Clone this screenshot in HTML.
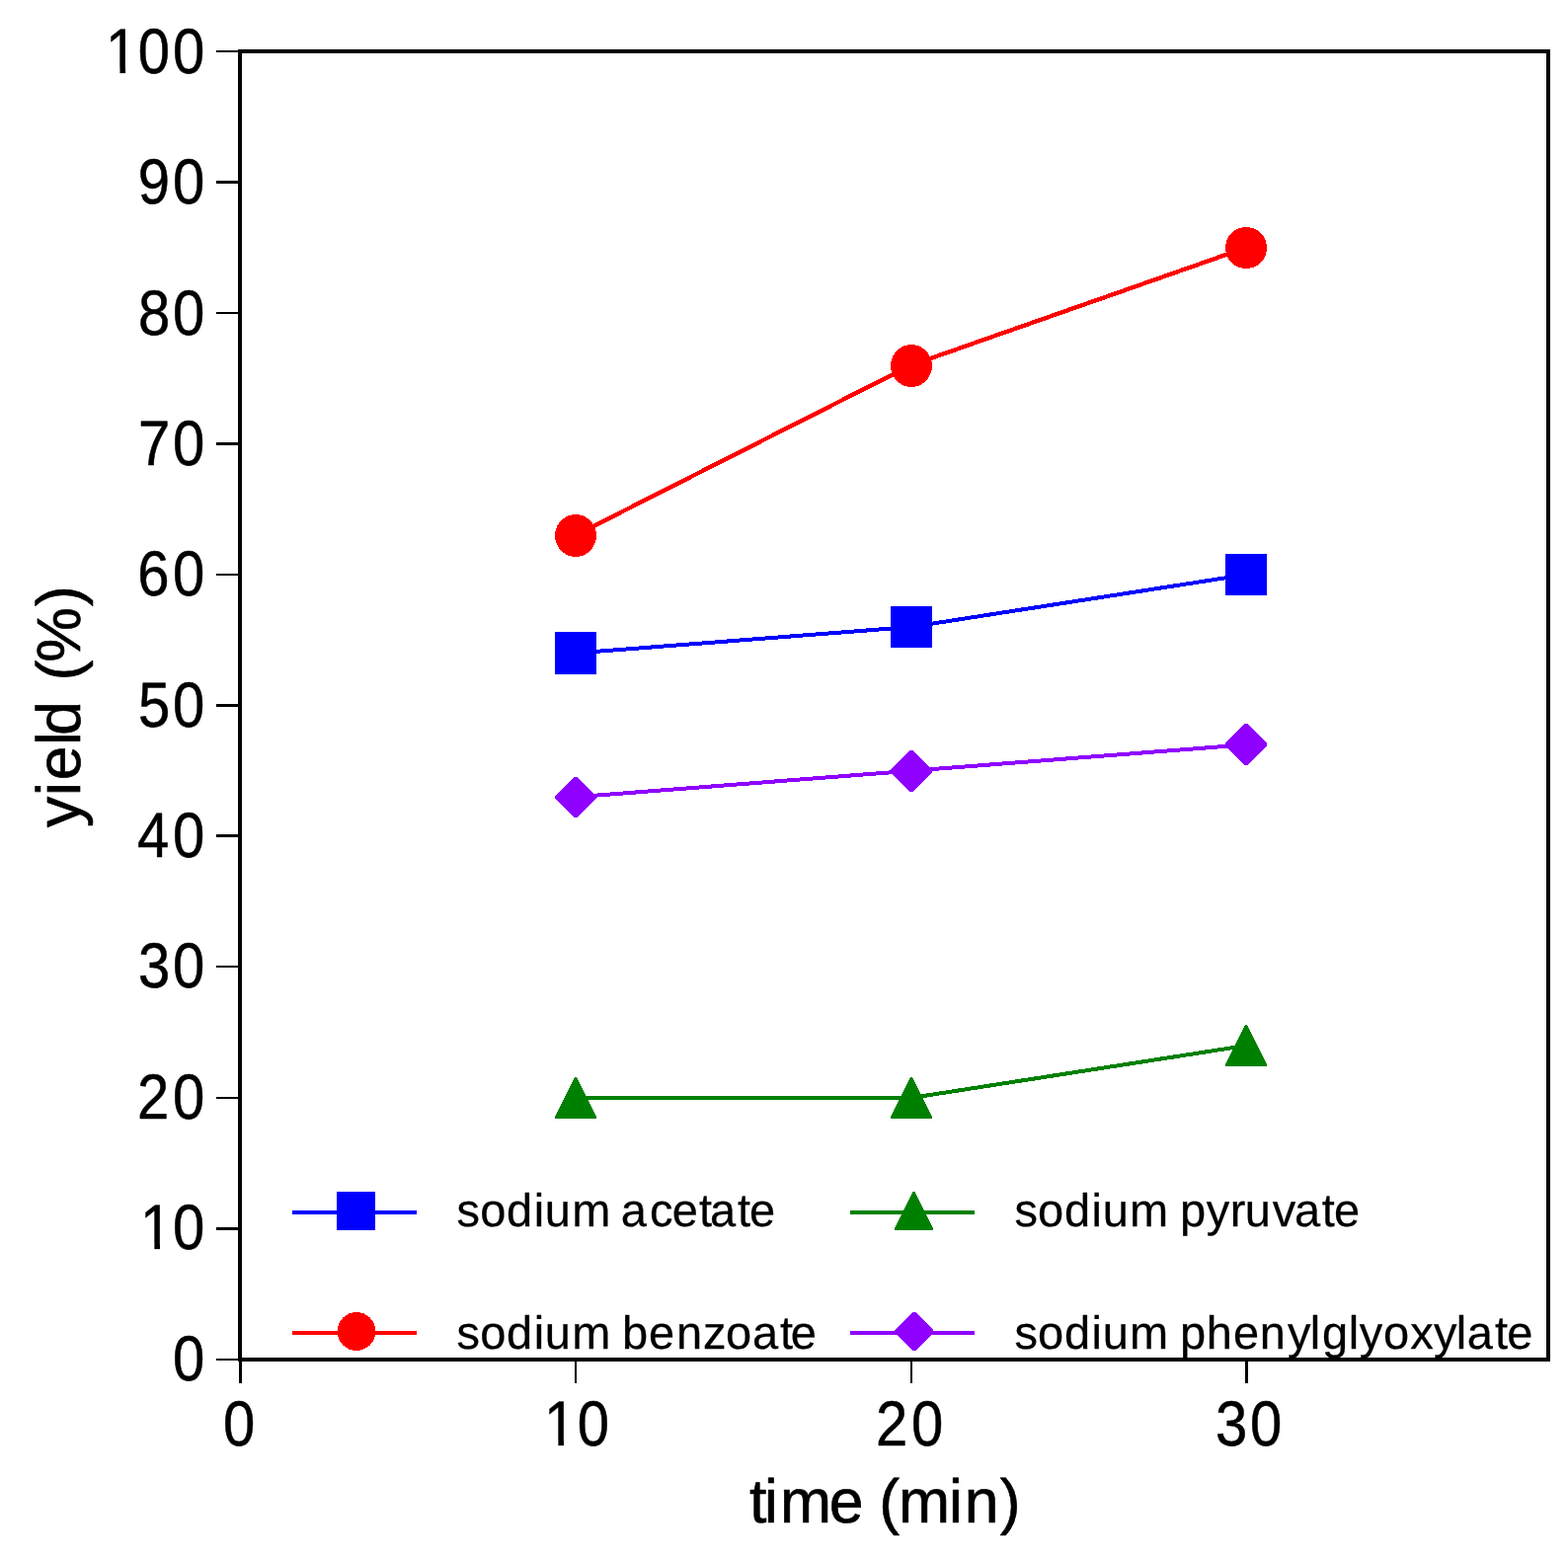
<!DOCTYPE html>
<html lang="en">
<head>
<meta charset="utf-8">
<title>yield vs time</title>
<style>
html,body{margin:0;padding:0;background:#fff;}
body{width:1588px;height:1578px;overflow:hidden;}
svg{display:block;}
text{font-family:"Liberation Sans",sans-serif;fill:#000;stroke-linejoin:round;text-rendering:geometricPrecision;}
</style>
</head>
<body>
<svg width="1588" height="1578" viewBox="0 0 1588 1578">
<defs>
<clipPath id="nofoot" clipPathUnits="userSpaceOnUse">
<path d="M-30,-90H260V-5.81H-30Z M15.58,-6.81H21.67V0.1H15.58Z M33.39,-90H260V30H33.39Z"/>
</clipPath>
</defs>
<rect x="0" y="0" width="1588" height="1578" fill="#fff"/>

<g id="ticks" shape-rendering="crispEdges" fill="#000">
<rect x="219" y="1376" width="23" height="2"/>
<rect x="219" y="1243" width="23" height="3"/>
<rect x="219" y="1111" width="23" height="2"/>
<rect x="219" y="978" width="23" height="2"/>
<rect x="219" y="845" width="23" height="3"/>
<rect x="219" y="713" width="23" height="3"/>
<rect x="219" y="581" width="23" height="2"/>
<rect x="219" y="448" width="23" height="3"/>
<rect x="219" y="316" width="23" height="2"/>
<rect x="219" y="183" width="23" height="3"/>
<rect x="219" y="51" width="23" height="2"/>
<rect x="242" y="1378" width="3" height="23"/>
<rect x="582" y="1378" width="2" height="23"/>
<rect x="922" y="1378" width="2" height="23"/>
<rect x="1261" y="1378" width="3" height="23"/>
</g>
<g id="series" shape-rendering="crispEdges">
<polyline points="582.74,1112 922.49,1112 1262.23,1059" fill="none" stroke="#008000" stroke-width="4"/>
<polyline points="582.74,807.25 922.49,780.75 1262.23,754.25" fill="none" stroke="#8F00FF" stroke-width="4"/>
<polyline points="582.74,661.5 922.49,635 1262.23,582" fill="none" stroke="#0000FF" stroke-width="4"/>
<polyline points="582.74,542.25 922.49,370 1262.23,250.75" fill="none" stroke="#FF0000" stroke-width="4.4"/>
<polygon points="562,1133 604,1133 604,1131 584,1091 582,1091 562,1131" fill="#008000"/>
<polygon points="902,1133 944,1133 944,1131 924,1091 922,1091 902,1131" fill="#008000"/>
<polygon points="1241,1080 1283,1080 1283,1078 1263,1038 1261,1038 1241,1078" fill="#008000"/>
<polygon points="562,806 581.5,787 584.5,787 604,806 604,809 584.5,828 581.5,828 562,809" fill="#8F00FF"/>
<polygon points="902,779.5 921.5,760 924.5,760 944,779.5 944,782.5 924.5,802 921.5,802 902,782.5" fill="#8F00FF"/>
<polygon points="1241,752.5 1260.5,733 1263.5,733 1283,752.5 1283,755.5 1263.5,775 1260.5,775 1241,755.5" fill="#8F00FF"/>
<rect x="562" y="640" width="42" height="43" fill="#0000FF"/>
<rect x="902" y="614" width="42" height="42" fill="#0000FF"/>
<rect x="1241" y="561" width="42" height="42" fill="#0000FF"/>
<ellipse cx="583" cy="542.5" rx="21" ry="21.5" fill="#FF0000"/>
<ellipse cx="923" cy="370.5" rx="21" ry="21.5" fill="#FF0000"/>
<ellipse cx="1262" cy="251" rx="21" ry="21" fill="#FF0000"/>
</g>
<g id="legend-keys" shape-rendering="crispEdges">
<rect x="296" y="1226" width="126" height="4" fill="#0000FF"/>
<rect x="341" y="1207" width="39" height="39" fill="#0000FF"/>
<rect x="296" y="1348" width="126" height="4" fill="#FF0000"/>
<ellipse cx="361" cy="1348.5" rx="19.5" ry="19.5" fill="#FF0000"/>
<rect x="861" y="1226" width="126" height="4" fill="#008000"/>
<polygon points="906,1246 945,1246 945,1244 926.5,1207 924.5,1207 906,1244" fill="#008000"/>
<rect x="861" y="1348" width="126" height="4" fill="#8F00FF"/>
<polygon points="906,1347 924,1329 927,1329 945,1347 945,1350 927,1368 924,1368 906,1350" fill="#8F00FF"/>
</g>
<rect id="frame" x="243" y="52" width="1325" height="1325" fill="none" stroke="#000" stroke-width="4" shape-rendering="crispEdges"/>
<g id="ytick-labels">
<g transform="translate(174.98,1398.38) scale(0.9213,1.0222)"><text x="0" y="0" font-size="63" stroke="#000" stroke-width="0.5">0</text></g>
<g transform="translate(142.04,1265.38) scale(0.9213,1.0222)" clip-path="url(#nofoot)"><text x="0 35.76" y="0" font-size="63" stroke="#000" stroke-width="0.5">10</text></g>
<g transform="translate(138.88,1133.38) scale(0.9213,1.0222)"><text x="0 39.18" y="0" font-size="63" stroke="#000" stroke-width="0.5">20</text></g>
<g transform="translate(140.04,1000.38) scale(0.9213,1.0222)"><text x="0 37.92" y="0" font-size="63" stroke="#000" stroke-width="0.5">30</text></g>
<g transform="translate(139.04,868.38) scale(0.9213,1.0222)"><text x="0 39" y="0" font-size="63" stroke="#000" stroke-width="0.5">40</text></g>
<g transform="translate(139.93,736.38) scale(0.9213,1.0222)"><text x="0 38.04" y="0" font-size="63" stroke="#000" stroke-width="0.5">50</text></g>
<g transform="translate(139.2,603.38) scale(0.9213,1.0222)"><text x="0 38.84" y="0" font-size="63" stroke="#000" stroke-width="0.5">60</text></g>
<g transform="translate(139.93,471.38) scale(0.9213,1.0222)"><text x="0 38.04" y="0" font-size="63" stroke="#000" stroke-width="0.5">70</text></g>
<g transform="translate(139.93,339.38) scale(0.9213,1.0222)"><text x="0 38.04" y="0" font-size="63" stroke="#000" stroke-width="0.5">80</text></g>
<g transform="translate(139.83,206.38) scale(0.9213,1.0222)"><text x="0 38.15" y="0" font-size="63" stroke="#000" stroke-width="0.5">90</text></g>
<g transform="translate(107.1,74.38) scale(0.9213,1.0222)" clip-path="url(#nofoot)"><text x="0 35.55 73.68" y="0" font-size="63" stroke="#000" stroke-width="0.5">100</text></g>
</g>
<g id="xtick-labels">
<g transform="translate(225.93,1464.38) scale(0.9213,1.0222)"><text x="0" y="0" font-size="63" stroke="#000" stroke-width="0.5">0</text></g>
<g transform="translate(551.04,1464.38) scale(0.9213,1.0222)" clip-path="url(#nofoot)"><text x="0 36.65" y="0" font-size="63" stroke="#000" stroke-width="0.5">10</text></g>
<g transform="translate(886.88,1464.38) scale(0.9213,1.0222)"><text x="0 39.1" y="0" font-size="63" stroke="#000" stroke-width="0.5">20</text></g>
<g transform="translate(1230.89,1464.38) scale(0.9213,1.0222)"><text x="0 38.03" y="0" font-size="63" stroke="#000" stroke-width="0.5">30</text></g>
</g>
<g id="axis-labels">
<text x="759.08 774.06 789.97 839.86 865.1 890.34 909.9 961.1 976.66 1012.86" y="1542" font-size="62.5" stroke="#000" stroke-width="0.65">time (min)</text>
<text transform="translate(81,837.1) rotate(-90)" x="-0.99 31.21 46.96 82.1 92.41 119.98 147.54 166.29 223.16" y="0" font-size="62.5" stroke="#000" stroke-width="0.65">yield (%)</text>
</g>
<g id="legend-labels">
<text x="462.52 486.2 513.1 540.65 551.83 579.23 604.04 628.86 657.88 680.87 708.12 718.95 747.03 758.88" y="1241.7" font-size="47" stroke="#000" stroke-width="0.25">sodium acetate</text>
<text x="462.52 486.2 513.1 540.65 551.83 579.23 604.58 629.93 656.88 684.9 712.03 734.88 761.98 790.08 800.76" y="1365.7" font-size="47" stroke="#000" stroke-width="0.25">sodium benzoate</text>
<text x="1027.38 1051.05 1077.95 1105.5 1116.68 1144.08 1169.52 1194.97 1221.82 1245.78 1260.74 1288.76 1310.88 1338.65 1351.03" y="1241.7" font-size="47" stroke="#000" stroke-width="0.25">sodium pyruvate</text>
<text x="1027.38 1051.05 1077.95 1105.5 1116.68 1144.08 1169.52 1194.97 1221.7 1248.9 1275.86 1303.99 1326.74 1338.95 1365.78 1376.7 1401.01 1428.26 1451.88 1474.69 1485.65 1513.93 1526.2" y="1365.7" font-size="47" stroke="#000" stroke-width="0.25">sodium phenylglyoxylate</text>
</g>
</svg>
</body>
</html>
